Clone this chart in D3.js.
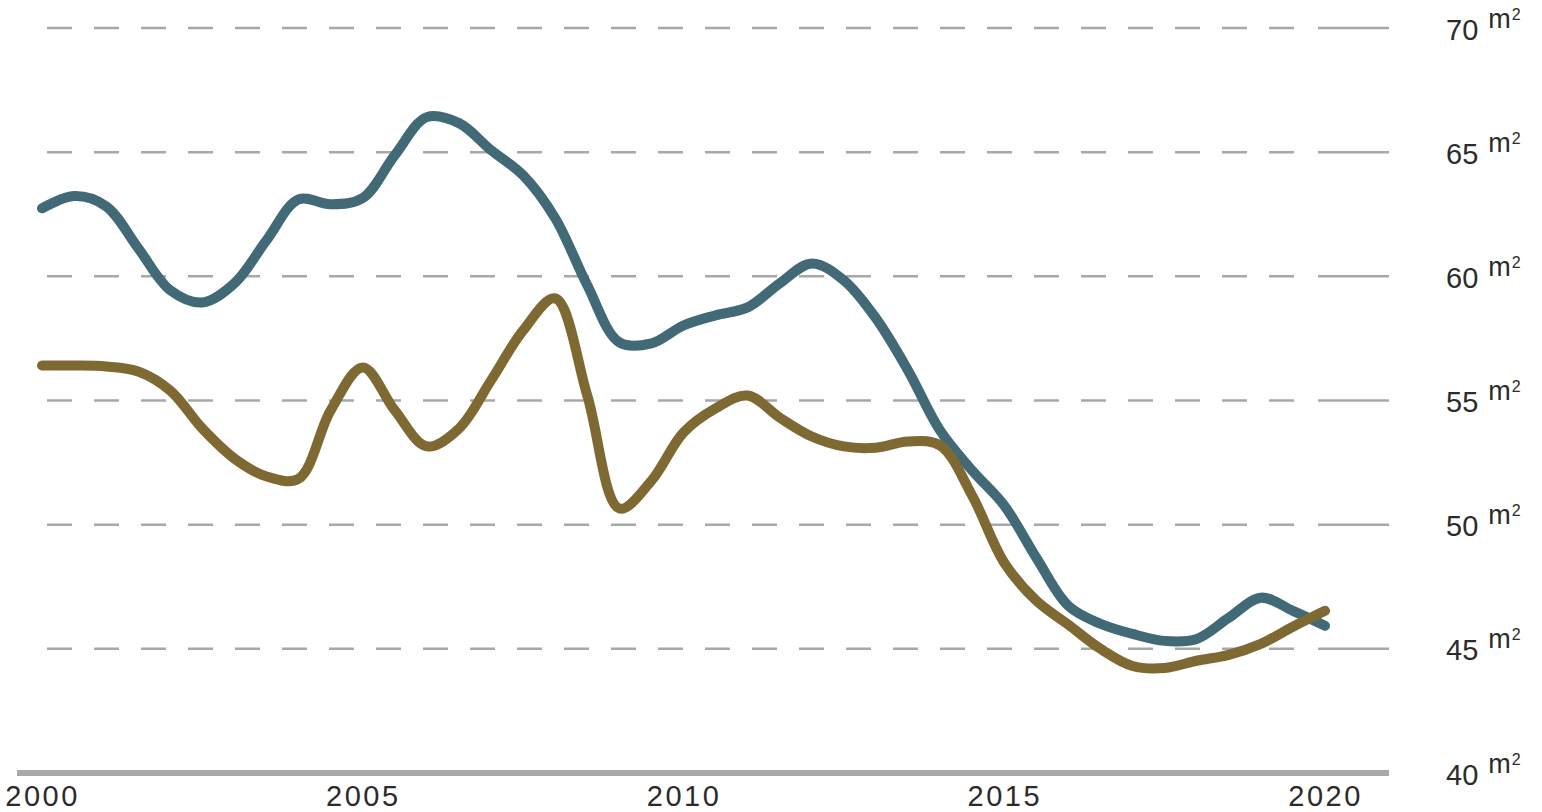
<!DOCTYPE html>
<html>
<head>
<meta charset="utf-8">
<script src="https://cdn.jsdelivr.net/npm/d3@7"></script>
<style>
  body { margin: 0; background: #fff; }
  text { font-family: "Liberation Sans", Arial, sans-serif; fill: #2b2b2b; }
</style>
</head>
<body>
<div id="chart"></div>
<script>
// half-year steps, 2000 -> 2020
const years = d3.range(0, 41).map(i => 2000 + i / 2);

const blueValues = [
  62.74, 63.23, 62.82, 61.13, 59.44, 58.95, 59.72, 61.45, 63.10, 62.90,
  63.15, 64.88, 66.41, 66.17, 65.08, 64.07, 62.34, 59.64, 57.34, 57.30,
  58.02, 58.43, 58.75, 59.72, 60.52, 59.84, 58.31, 56.21, 53.79, 52.18,
  50.77, 48.67, 46.73, 46.01, 45.60, 45.32, 45.40, 46.25, 47.06, 46.53,
  45.93
];

const brownValues = [
  56.41, 56.41, 56.37, 56.17, 55.40, 53.87, 52.66, 51.94, 51.85, 54.60,
  56.33, 54.60, 53.15, 53.87, 55.81, 57.82, 59.11, 55.20, 50.65, 51.77,
  53.71, 54.68, 55.20, 54.31, 53.55, 53.15, 53.10, 53.35, 53.19, 51.17,
  48.47, 46.94, 45.97, 45.00, 44.31, 44.23, 44.52, 44.76, 45.20, 45.89,
  46.53
];

const xTicks = [2000, 2005, 2010, 2015, 2020];
const yTicks = [40, 45, 50, 55, 60, 65, 70];

const width = 1542, height = 812;

const svg = d3.select("#chart").append("svg")
    .attr("width", width)
    .attr("height", height);

let x = d3.scaleLinear().domain([2000, 2020]).range([42, 1325]);
let y = d3.scaleLinear().domain([40, 70]).range([773, 28]);

// grid lines (dashed, with a solid piece at the right end)
let grid = svg.append("g");
grid.selectAll("line.dash")
    .data(yTicks.filter(d => d > 40))
    .enter()
    .append("line")
    .attr("class", "dash")
    .attr("x1", 47)
    .attr("x2", 1316)
    .attr("y1", d => y(d))
    .attr("y2", d => y(d))
    .attr("stroke", "#a8a8a8")
    .attr("stroke-width", 2.5)
    .attr("stroke-dasharray", "25,22");
grid.selectAll("line.solid")
    .data(yTicks.filter(d => d > 40))
    .enter()
    .append("line")
    .attr("class", "solid")
    .attr("x1", 1318)
    .attr("x2", 1389)
    .attr("y1", d => y(d))
    .attr("y2", d => y(d))
    .attr("stroke", "#a8a8a8")
    .attr("stroke-width", 2.5);

// base line
svg.append("line")
    .attr("x1", 17)
    .attr("x2", 1389)
    .attr("y1", y(40))
    .attr("y2", y(40))
    .attr("stroke", "#a9a9a9")
    .attr("stroke-width", 6);

// x axis
let xAxis = svg.append("g")
    .attr("transform", "translate(0," + (y(40) + 11) + ")")
    .call(d3.axisBottom(x).tickValues(xTicks).tickFormat(d3.format("d")).tickSize(0).tickPadding(0));
xAxis.select(".domain").remove();
xAxis.selectAll("text")
    .attr("font-size", 29)
    .attr("letter-spacing", 2.5)
    .attr("dy", "0.75em")
    .style("fill", "#2b2b2b");

// y axis labels on the right
let yAxis = svg.append("g")
    .attr("transform", "translate(1446,0)")
    .call(d3.axisRight(y).tickValues(yTicks).tickFormat(d3.format("d")).tickSize(0).tickPadding(0));
yAxis.select(".domain").remove();
yAxis.selectAll("text")
    .attr("font-size", 29)
    .attr("text-anchor", "start")
    .attr("dy", "0.38em")
    .style("fill", "#2b2b2b")
    .each(function() {
        let t = d3.select(this);
        t.append("tspan")
            .attr("dx", 10)
            .attr("dy", -12)
            .attr("font-size", 27)
            .text("m");
        t.append("tspan")
            .attr("dx", 1)
            .attr("dy", -8)
            .attr("font-size", 16)
            .text("2");
    });

// lines
let line = d3.line()
    .x((d, i) => x(years[i]))
    .y(d => y(d))
    .curve(d3.curveCatmullRom.alpha(0.5));

svg.append("path")
    .datum(blueValues)
    .attr("d", line)
    .attr("fill", "none")
    .attr("stroke", "#416a76")
    .attr("stroke-width", 10)
    .attr("stroke-linecap", "round")
    .attr("stroke-linejoin", "round");

svg.append("path")
    .datum(brownValues)
    .attr("d", line)
    .attr("fill", "none")
    .attr("stroke", "#7f6933")
    .attr("stroke-width", 10)
    .attr("stroke-linecap", "round")
    .attr("stroke-linejoin", "round");
</script>
</body>
</html>
